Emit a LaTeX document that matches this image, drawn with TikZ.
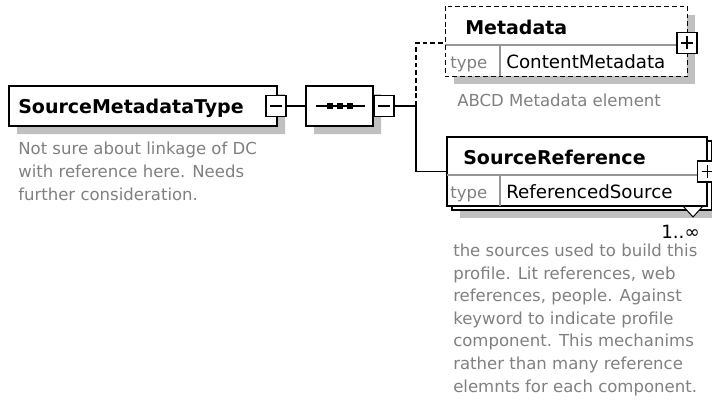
\documentclass[tikz,border=0pt]{standalone}
\usepackage{fontspec}
\setmainfont{DejaVu Sans}
\usetikzlibrary{shapes.misc,shadows}
\definecolor{docgray}{RGB}{128,128,128}
\definecolor{shadowgray}{RGB}{192,192,192}
\definecolor{rulegray}{RGB}{150,150,150}
\begin{document}
\begin{tikzpicture}[x=0.75pt,y=-0.75pt,
  edge/.style={line width=1.1pt,draw=black},
  optedge/.style={edge,dash pattern=on 3.6pt off 2.2pt},
  boxshadow/.style={drop shadow={shadow xshift=6pt,shadow yshift=-6pt,fill=shadowgray,opacity=1}},
  shapebox/.style={draw=black,fill=white,line width=1.1pt,inner sep=0pt},
  elembox/.style={shapebox,rectangle},
  typebox/.style={shapebox,chamfered rectangle,chamfered rectangle corners={north west,south west},
    chamfered rectangle xsep=4.5pt,chamfered rectangle ysep=4.5pt},
  seqbox/.style={shapebox,chamfered rectangle,chamfered rectangle xsep=7.5pt,chamfered rectangle ysep=7.5pt},
  togglebox/.style={shapebox,rectangle,minimum width=15pt,minimum height=15.75pt},
  minusbox/.style={togglebox,path picture={
    \draw[line width=1.1pt] ([xshift=3pt]path picture bounding box.west) -- ([xshift=-3pt]path picture bounding box.east);}},
  plusbox/.style={togglebox,path picture={
    \draw[line width=1.1pt] ([xshift=3pt]path picture bounding box.west) -- ([xshift=-3pt]path picture bounding box.east)
      ([yshift=-3pt]path picture bounding box.north) -- ([yshift=3pt]path picture bounding box.south);}},
  divider/.style={draw=rulegray,line width=0.8pt},
  titletext/.style={font=\fontsize{14.25}{17}\selectfont\bfseries,inner sep=0pt,anchor=base west},
  nametext/.style={font=\fontsize{13.7}{16}\selectfont,inner sep=0pt,anchor=base west},
  labeltext/.style={font=\fontsize{12.4}{16.9}\selectfont,text=docgray,inner sep=0pt,anchor=base west},
  doctext/.style={labeltext,align=left}]
\useasboundingbox (0,0) rectangle (712,403);
\clip (0,0) rectangle (712,403);

% complex type with its sequence compositor
\node[typebox,boxshadow,minimum width=201pt,minimum height=30pt] (root) at (143,106) {};
\node[titletext] (roottitle) at (18,113) {SourceMetadataType};
% multi-line notes are anchored at the baseline of their last line
\node[doctext] (rootdoc) at (18,200) {Not sure about linkage of DC\\with reference here. Needs\\further consideration.};
\node[minusbox] (roottoggle) at (276,106) {};

\node[seqbox,boxshadow,minimum width=50.25pt,minimum height=30pt] (seq) at (339.5,106) {};
\draw[line width=1.1pt] (316,106) -- (365,106);
\foreach \cx in {330,340,350} \fill (\cx-3,103) rectangle (\cx+3,109);
\node[minusbox] (seqtoggle) at (384,106) {};

% optional Metadata element
\node[elembox,boxshadow,draw=none,minimum width=180.75pt,minimum height=51.75pt] (meta) at (566.5,41.5) {};
\draw[divider] (meta.west |- 0,45) -- (meta.east |- 0,45);
\draw[divider] (500,45) -- (500,76);
\draw[optedge] (meta.north west) rectangle (meta.south east);
\node[titletext] (metatitle) at (465,35) {Metadata};
\node[labeltext] (metatype) at (450,69) {type};
\node[nametext] (metatypename) at (506,69) {ContentMetadata};
\node[plusbox] (metatoggle) at (687,43) {};
\node[labeltext] (metadoc) at (457,106) {ABCD Metadata element};

% repeated SourceReference element
\node[elembox,boxshadow,minimum width=195pt,minimum height=51.75pt] (refstack) at (582,175.5) {};
\draw[line width=0.75pt,fill=white] (683,206) -- (693,217) -- (703,206);
\node[elembox,minimum width=195pt,minimum height=51.75pt] (ref) at (577,171.5) {};
\draw[divider] (ref.west |- 0,175) -- (ref.east |- 0,175);
\draw[divider] (500,175) -- (500,206);
\draw[line width=1.1pt] (ref.north west) rectangle (ref.south east);
\node[titletext] (reftitle) at (463,164) {SourceReference};
\node[labeltext] (reftype) at (450,198) {type};
\node[nametext] (reftypename) at (506,198) {ReferencedSource};
\node[plusbox] (reftoggle) at (ref.east) {};
\node[nametext,anchor=base east] (refcard) at (700,238) {1..∞};
\node[doctext] (refdoc) at (453,392) {the sources used to build this\\profile. Lit references, web\\references, people. Against\\keyword to indicate profile\\component. This mechanims\\rather than many reference\\elemnts for each component.};

% connectors
\coordinate (bus) at (416,106);
\draw[edge] (roottoggle.east) -- (seq.west);
\draw[edge] (seqtoggle.east) -- (bus);
\draw[optedge] (bus) |- (metatoggle.west -| meta.west);
\draw[edge] (bus) |- (ref.west);
\end{tikzpicture}
\end{document}
